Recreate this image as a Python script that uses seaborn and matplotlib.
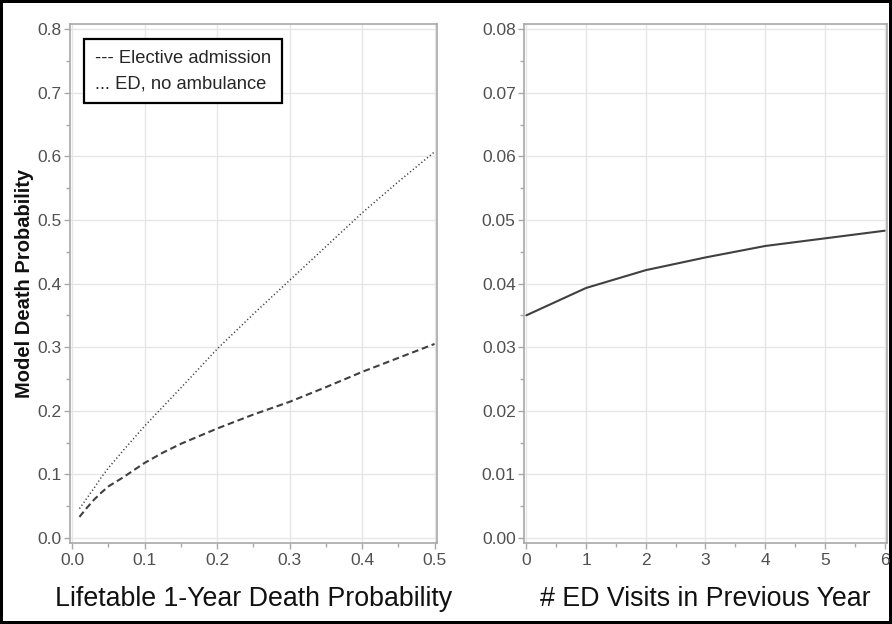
import matplotlib
matplotlib.use("Agg")
import pandas as pd
import seaborn as sns
from matplotlib import pyplot as plt
from matplotlib.ticker import MultipleLocator, FormatStrFormatter

# left panel: lifetable probability vs model death probability
life_prob = [0.01, 0.02, 0.03, 0.04, 0.05, 0.07, 0.1, 0.125, 0.15, 0.2, 0.25, 0.3, 0.35, 0.4, 0.45, 0.5]
elective = [0.033, 0.047, 0.060, 0.071, 0.081, 0.095, 0.118, 0.134, 0.148, 0.172, 0.194, 0.214,
            0.237, 0.261, 0.283, 0.305]
ed_no_amb = [0.046, 0.062, 0.078, 0.095, 0.110, 0.137, 0.176, 0.206, 0.236, 0.297, 0.352, 0.405,
             0.458, 0.511, 0.560, 0.607]

# right panel: ED visits vs model death probability
ed_visits = [0, 1, 2, 3, 4, 5, 6]
ed_prob = [0.0350, 0.0393, 0.0421, 0.0441, 0.0459, 0.0471, 0.0483]

series_names = ["--- Elective admission", "... ED, no ambulance"]

LINE = "#404040"
SPINE = "#a8a8a8"
TICKLAB = "#505050"

sns.set_style("whitegrid")
plt.rcParams["font.family"] = ["Liberation Sans", "DejaVu Sans"]
plt.rcParams["grid.color"] = "#e6e6e6"
plt.rcParams["grid.linewidth"] = 1.0

left_df = pd.DataFrame({
    "x": life_prob * 2,
    "y": elective + ed_no_amb,
    "Admission": [series_names[0]] * len(life_prob) + [series_names[1]] * len(life_prob),
})
right_df = pd.DataFrame({"x": ed_visits, "y": ed_prob})

fig = plt.figure(figsize=(8.92, 6.24), dpi=100)
ax1 = fig.add_axes([0.0785, 0.1298, 0.4111, 0.8317])
ax2 = fig.add_axes([0.5874, 0.1298, 0.4070, 0.8317])

sns.lineplot(left_df, x="x", y="y", style="Admission", color=LINE,
             dashes={series_names[0]: (3.2, 1.8), series_names[1]: (0.8, 1.6)},
             linewidth=1.5, legend=False, ax=ax1)
ax1.lines[1].set_linewidth(1.1)

sns.lineplot(right_df, x="x", y="y", color=LINE, linewidth=1.5, ax=ax2)

ax1.set_xlim(-0.003, 0.503)
ax1.set_ylim(-0.008, 0.808)
ax1.xaxis.set_major_locator(MultipleLocator(0.1))
ax1.xaxis.set_minor_locator(MultipleLocator(0.05))
ax1.yaxis.set_major_locator(MultipleLocator(0.1))
ax1.yaxis.set_minor_locator(MultipleLocator(0.05))
ax1.xaxis.set_major_formatter(FormatStrFormatter("%.1f"))
ax1.yaxis.set_major_formatter(FormatStrFormatter("%.1f"))

ax2.set_xlim(-0.04, 6.04)
ax2.set_ylim(-0.0008, 0.0808)
ax2.xaxis.set_major_locator(MultipleLocator(1))
ax2.xaxis.set_minor_locator(MultipleLocator(0.5))
ax2.yaxis.set_major_locator(MultipleLocator(0.01))
ax2.yaxis.set_minor_locator(MultipleLocator(0.005))
ax2.yaxis.set_major_formatter(FormatStrFormatter("%.2f"))

for ax in [ax1, ax2]:
    for sp in ax.spines.values():
        sp.set_color(SPINE)
        sp.set_linewidth(1.2)
    ax.tick_params(which="major", direction="out", length=4, width=1, color=SPINE,
                   labelsize=12.5, labelcolor=TICKLAB, pad=2, bottom=True, left=True)
    ax.tick_params(axis="x", which="major", pad=3.5)
    ax.tick_params(which="minor", direction="out", length=3, width=1, color=SPINE,
                   bottom=True, left=True)
    ax.grid(True, which="major")
    ax.grid(False, which="minor")

ax1.set_xlabel("Lifetable 1-Year Death Probability", fontsize=19.3, color="#111111", labelpad=13)
ax2.set_xlabel("# ED Visits in Previous Year", fontsize=19.3, color="#111111", labelpad=13)
ax1.set_ylabel("Model Death Probability", fontsize=14.5, fontweight="bold", color="#111111")
ax1.yaxis.set_label_coords(-0.097, 0.5)
ax2.set_ylabel("")

# legend: the line style is written into the label text itself
handles = [plt.Line2D([], [], linestyle="none") for _ in series_names]
leg = ax1.legend(handles, series_names, loc="upper left", bbox_to_anchor=(0.038, 0.971),
                 borderaxespad=0, fontsize=13.2, handlelength=0, handletextpad=0, fancybox=False,
                 framealpha=1, edgecolor="black", borderpad=0.6, labelspacing=0.45)
leg.get_frame().set_linewidth(1.6)

fig.patch.set_edgecolor("black")
fig.patch.set_linewidth(4)

plt.savefig("out.png", dpi=100, edgecolor=fig.get_edgecolor())
plt.close()
